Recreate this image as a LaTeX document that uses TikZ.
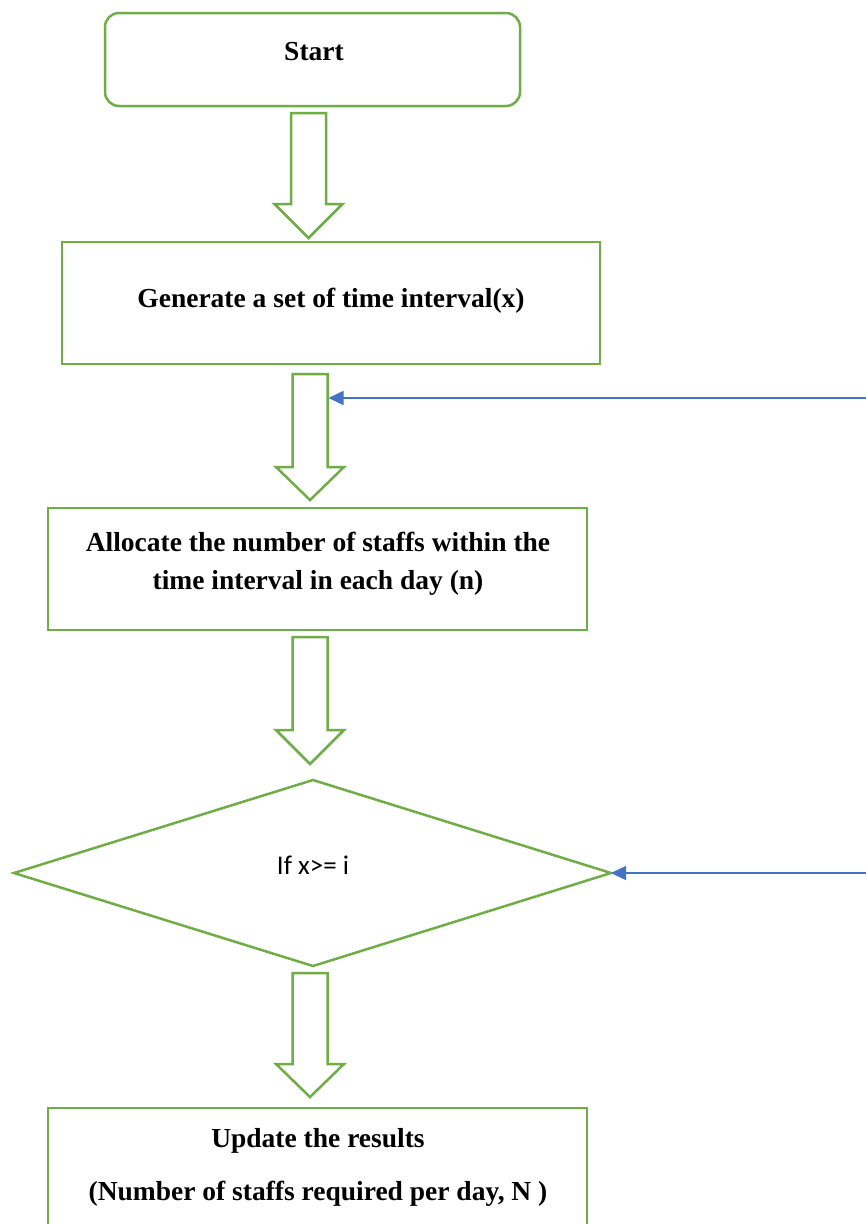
\documentclass[tikz,border=0pt]{standalone}
\usepackage{fontspec}
\setmainfont{Liberation Serif}
\newfontfamily\calib{Carlito}
\usetikzlibrary{arrows.meta}
\definecolor{gr}{HTML}{70AD47}
\definecolor{bl}{HTML}{4472C4}
\tikzset{
  box/.style={draw=gr, line width=2.5pt, fill=none},
  btxt/.style={font=\fontsize{27.5}{32}\selectfont\bfseries, anchor=base, inner sep=0pt},
  stxt/.style={font=\calib\fontsize{27}{32}\selectfont, anchor=base, inner sep=0pt},
  blockarrow/.style={draw=gr, line width=2.5pt, line join=miter},
  feedback/.style={draw=bl, line width=1.5pt, -{Triangle[length=15pt,width=14pt]}}
}
% #1 centre x, #2 top y, #3 head base y, #4 tip y
\newcommand{\blkarr}[4]{%
  \draw[blockarrow] ({#1-17.5},#2) -- ({#1+17.5},#2) -- ({#1+17.5},#3) -- ({#1+34},#3)
    -- (#1,#4) -- ({#1-34},#3) -- ({#1-17.5},#3) -- cycle;}
\begin{document}
\begin{tikzpicture}[x=1pt,y=-1pt]
\clip (0,0) rectangle (866,1224);
\fill[white] (0,0) rectangle (866,1224);
% boxes
\draw[box, rounded corners=14pt] (105,13) rectangle (520,106);
\node[coordinate] (start) at (312.5,59.5) {};
\node[btxt] (starttxt) at (314,60) {Start};
\draw[box] (62,242) rectangle (600,364);
\node[coordinate] (gen) at (331,303) {};
\node[btxt] (gentxt) at (331,307) {Generate a set of time interval(x)};
\draw[box] (48,508) rectangle (587,630);
\node[coordinate] (alloc) at (317.5,569) {};
\node[btxt] (alloc1) at (318,551) {Allocate the number of staffs within the};
\node[btxt] (alloc2) at (318,589) {time interval in each day (n)};
\draw[box] (313,780) -- (611,873) -- (313,966) -- (14,873) -- cycle;
\node[coordinate] (dec) at (313,873) {};
\node[coordinate] (decE) at (611,873) {};
\node[stxt] (dectxt) at (313,874) {If x>= i};
\draw[box] (48,1108) rectangle (587,1260);
\node[btxt] (upd1) at (318,1147) {Update the results};
\node[btxt] (upd2) at (318,1200) {(Number of staffs required per day, N )};
% block arrows
\blkarr{308.5}{113}{204}{238}
\blkarr{310}{374}{467}{500}
\blkarr{310}{637}{730}{764}
\blkarr{310}{973}{1064}{1097}
% feedback arrows
\coordinate (fb1) at (866,398);
\coordinate (arr2E) at (328.5,398);
\draw[feedback] (fb1) -- (arr2E);
\coordinate (fb2) at (866,873);
\draw[feedback] (fb2) -- (decE);
\end{tikzpicture}
\end{document}
